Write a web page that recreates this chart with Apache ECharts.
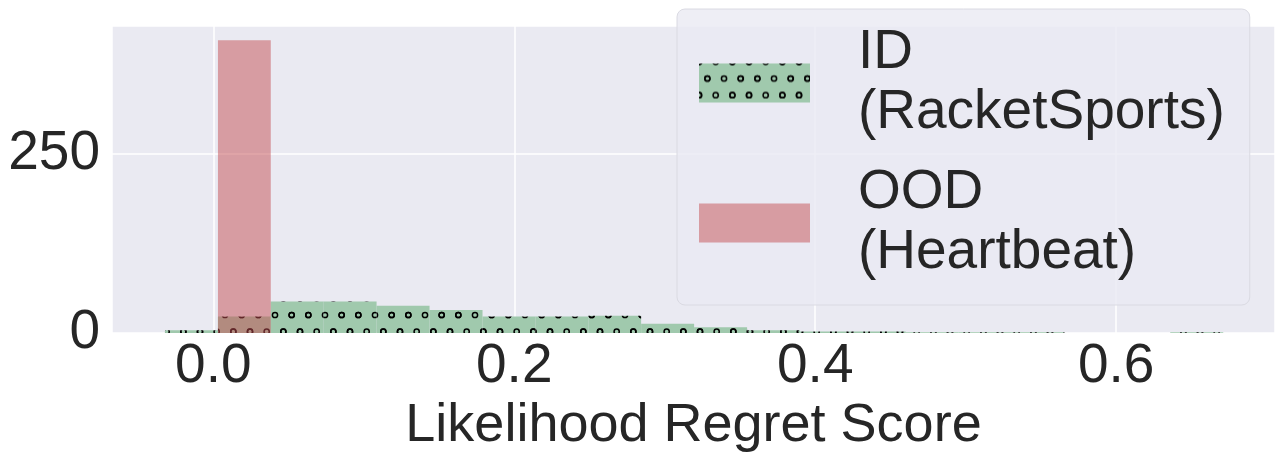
<!DOCTYPE html>
<html>
<head>
<meta charset="utf-8">
<script src="https://cdn.jsdelivr.net/npm/echarts@6/dist/echarts.min.js"></script>
<style>
  html, body { margin: 0; padding: 0; background: #fff; }
  #chart { width: 1284px; height: 462px; }
</style>
</head>
<body>
<div id="chart"></div>
<script>
  // histogram bin edges (shared by both series)
  var binEdges = [-0.0321, 0.0031, 0.0382, 0.0734, 0.1085, 0.1437, 0.1789, 0.2140, 0.2492, 0.2843,
    0.3195, 0.3547, 0.3898, 0.4250, 0.4601, 0.4953, 0.5305, 0.5656, 0.6008, 0.6359, 0.6711];
  // counts per bin
  var idCounts = [4, 23, 44, 44, 38, 32, 23, 23, 24, 13, 8, 4, 2, 2, 1, 1, 1, 0, 0, 1];
  var oodCounts = [0, 409, 0, 0, 0, 0, 0, 0, 0, 0, 0, 0, 0, 0, 0, 0, 0, 0, 0, 0];
  var seriesNames = ['ID\n(RacketSports)', 'OOD\n(Heartbeat)'];
  var xTicks = [0, 0.2, 0.4, 0.6];
  var yTicks = [0, 250];

  var font = 'Liberation Sans, Arial, sans-serif';
  var textColor = '#262626';

  // 'o' hatch on the green bars
  function makeHatch() {
    var c = document.createElement('canvas');
    c.width = 50; c.height = 100;
    var ctx = c.getContext('2d');
    ctx.fillStyle = '#a0c9ad';
    ctx.fillRect(0, 0, 50, 100);
    ctx.strokeStyle = '#000';
    ctx.lineWidth = 1.5;
    var step = 50 / 3;
    for (var j = 0; j < 6; j++) {
      var cy = 15 + j * step;
      var off = (j % 2 === 1) ? 0 : step / 2;
      for (var i = -1; i < 4; i++) {
        var cx = off + i * step;
        [-100, 0, 100].forEach(function (dy) {
          [-50, 0, 50].forEach(function (dx) {
            ctx.beginPath();
            ctx.arc(cx + dx, cy + dy, 2.6, 0, Math.PI * 2);
            ctx.stroke();
          });
        });
      }
    }
    return c;
  }
  var hatch = { image: makeHatch(), repeat: 'repeat' };
  var redFill = 'rgba(196,78,82,0.5)';

  function histData(counts) {
    return counts.map(function (v, i) { return [binEdges[i], binEdges[i + 1], v]; });
  }

  function barRenderer(fill) {
    return function (params, api) {
      var p0 = api.coord([api.value(0), api.value(2)]);
      var p1 = api.coord([api.value(1), 0]);
      return {
        type: 'rect',
        shape: { x: p0[0], y: p0[1], width: p1[0] - p0[0], height: p1[1] - p0[1] },
        style: { fill: fill }
      };
    };
  }

  var chart = echarts.init(document.getElementById('chart'));
  chart.setOption({
    animation: false,
    grid: {
      left: 112, right: 9, top: 26, bottom: 129,
      show: true, backgroundColor: '#eaeaf2', borderWidth: 0
    },
    legend: {
      left: 677, top: 9,
      orient: 'vertical',
      padding: [14, 25, 22, 22],
      itemGap: 20,
      itemWidth: 111,
      itemHeight: 39,
      backgroundColor: 'rgba(234,234,242,0.8)',
      borderColor: '#dadae2',
      borderWidth: 1,
      borderRadius: 8,
      data: [{ name: seriesNames[0], icon: 'rect' }, { name: seriesNames[1], icon: 'rect' }],
      textStyle: {
        fontFamily: font, fontSize: 55, lineHeight: 60, color: textColor,
        padding: [0, 0, 0, 43]
      }
    },
    xAxis: {
      type: 'value',
      min: -0.0673, max: 0.7055,
      splitNumber: 5,
      axisLine: { show: false },
      axisTick: { show: false },
      axisLabel: {
        showMinLabel: false, showMaxLabel: false,
        fontFamily: font, fontSize: 55, color: textColor, margin: 6,
        formatter: function (v) { return xTicks.indexOf(+v.toFixed(4)) >= 0 ? v.toFixed(1) : ''; }
      },
      splitLine: { show: true, lineStyle: { color: '#ffffff', width: 1.5 } },
      name: 'Likelihood Regret Score',
      nameLocation: 'middle',
      nameGap: 62,
      nameTextStyle: { fontFamily: font, fontSize: 54, color: textColor }
    },
    yAxis: {
      type: 'value',
      min: 0, max: 429,
      interval: 250,
      axisLine: { show: false },
      axisTick: { show: false },
      axisLabel: {
        showMaxLabel: false,
        fontFamily: font, fontSize: 55, color: textColor, margin: 12,
        formatter: function (v) { return yTicks.indexOf(v) >= 0 ? String(v) : ''; }
      },
      splitLine: { show: true, lineStyle: { color: '#ffffff', width: 1.5 } }
    },
    series: [
      {
        name: seriesNames[0],
        type: 'custom',
        itemStyle: { color: hatch },
        renderItem: barRenderer(hatch),
        encode: { x: [0, 1], y: 2 },
        data: histData(idCounts)
      },
      {
        name: seriesNames[1],
        type: 'custom',
        itemStyle: { color: redFill },
        renderItem: barRenderer(redFill),
        encode: { x: [0, 1], y: 2 },
        data: histData(oodCounts)
      }
    ]
  });
</script>
</body>
</html>
